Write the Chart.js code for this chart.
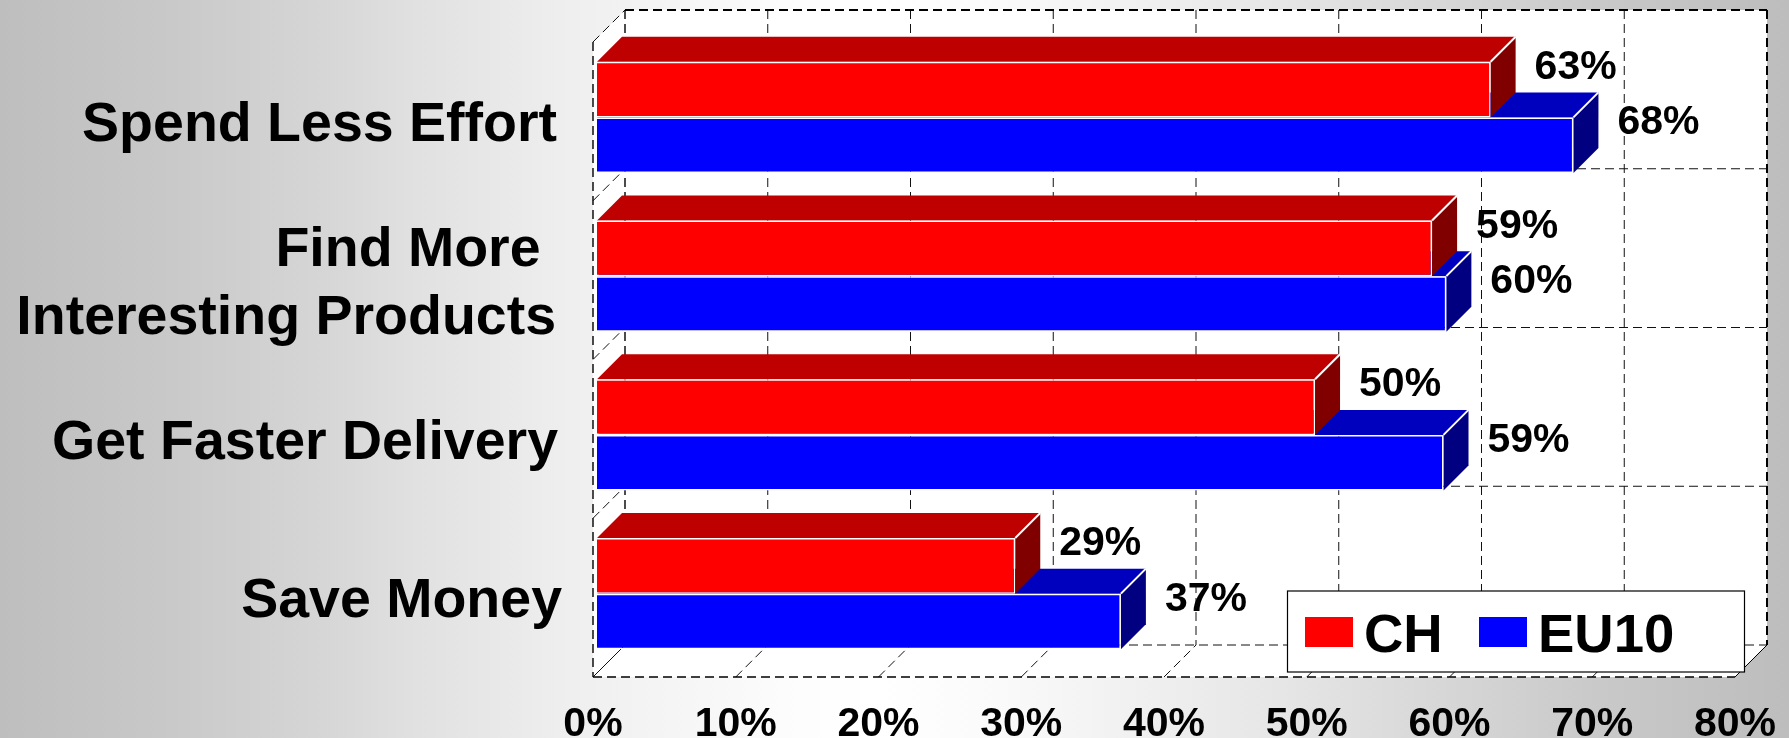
<!DOCTYPE html>
<html><head><meta charset="utf-8">
<style>html,body{margin:0;padding:0;background:#fff}canvas{display:block}</style>
<script src="https://cdn.jsdelivr.net/npm/chart.js@4"></script>
</head><body><canvas id="c" width="1789" height="738"></canvas>
<script>
const categories = ["Spend Less Effort", ["Find More ", "Interesting Products"], "Get Faster Delivery", "Save Money"];
const chValues = [62.6, 58.5, 50.3, 29.3];
const eu10Values = [68.4, 59.5, 59.3, 36.7];
const chLabels = ["63%", "59%", "50%", "29%"];
const eu10Labels = ["68%", "60%", "59%", "37%"];
const seriesNames = ["CH", "EU10"];
const FONT = '"Liberation Sans", Arial, sans-serif';
const WALL = 32, GAP = 4, BAR_D = 25;
const shade = [{top:'#bf0000',side:'#800000'},{top:'#0000bf',side:'#000080'}];
const seriesLabels = [chLabels, eu10Labels];
const labelNudge = [0, -1, 1, 5];
const bgStops = [[0,'#bebebe'],[160,'#c8c8c8'],[326,'#d6d6d6'],[408,'#e0e0e0'],[571,'#efefef'],[640,'#f3f3f3'],[800,'#fdfdfd'],[880,'#ffffff'],[1000,'#fafafa'],[1141,'#f0f0f0'],[1280,'#e6e6e6'],[1430,'#d8d8d8'],[1600,'#c9c9c9'],[1789,'#bdbdbd']];

function line(ctx,x0,y0,x1,y1){ctx.beginPath();ctx.moveTo(x0,y0);ctx.lineTo(x1,y1);ctx.stroke();}
function noPad(s){s.paddingTop=0;s.paddingBottom=0;s.paddingLeft=0;s.paddingRight=0;}

const stage = {
  id:'stage',
  beforeDraw(chart){
    const {ctx,width,height,chartArea:a,scales:{x,y}} = chart;
    y.getLabelItems().forEach((it,i)=>{
      if(!it.nudged){it.nudged=true;it.options.translation[0]+=labelNudge[i]||0;}
    });
    const g = ctx.createLinearGradient(0,0,width,0);
    bgStops.forEach(s=>g.addColorStop(s[0]/width,s[1]));
    ctx.save();
    ctx.fillStyle=g; ctx.fillRect(0,0,width,height);
    ctx.fillStyle='#fff';
    ctx.beginPath();
    ctx.moveTo(a.left,a.bottom);ctx.lineTo(a.left,a.top);ctx.lineTo(a.left+WALL,a.top-WALL);
    ctx.lineTo(a.right+WALL,a.top-WALL);ctx.lineTo(a.right+WALL,a.bottom-WALL);ctx.lineTo(a.right,a.bottom);
    ctx.closePath();ctx.fill();
    ctx.strokeStyle='#111';ctx.lineWidth=1;ctx.setLineDash([9,5]);
    x.ticks.forEach((t,i)=>{
      const px=x.getPixelForValue(t.value);
      const first=i===0;
      if(i>0 && i<x.ticks.length-1) line(ctx,px+WALL,a.top-WALL,px+WALL,a.bottom-WALL);
      ctx.setLineDash(first?[]:[9,5]);
      line(ctx,px,a.bottom,px+WALL,a.bottom-WALL);
      ctx.setLineDash([9,5]);
    });
    const n=categories.length, h=(a.bottom-a.top)/n;
    for(let i=0;i<=n;i++){
      const py=a.top+h*i;
      line(ctx,a.left+WALL,py-WALL,a.right+WALL,py-WALL);
      line(ctx,a.left,py,a.left+WALL,py-WALL);
    }
    ctx.strokeStyle='#000';
    ctx.lineWidth=1.4;
    line(ctx,a.left,a.bottom,a.right,a.bottom);
    line(ctx,a.left,a.top,a.left,a.bottom);
    line(ctx,a.left+WALL,a.top-WALL,a.left+WALL,a.bottom-WALL);
    ctx.lineWidth=2;
    line(ctx,a.left+WALL,a.top-WALL,a.right+WALL,a.top-WALL);
    line(ctx,a.right+WALL,a.top-WALL,a.right+WALL,a.bottom-WALL);
    ctx.setLineDash([]);ctx.lineWidth=1;
    line(ctx,a.right,a.bottom,a.right+WALL,a.bottom-WALL);
    ctx.restore();
  },
  beforeDatasetsDraw(chart){
    const ctx=chart.ctx;
    ctx.save();
    ctx.translate(GAP,-GAP);
    ctx.strokeStyle='#fff';ctx.lineWidth=2;ctx.lineJoin='round';
    [1,0].forEach(d=>{
      chart.getDatasetMeta(d).data.forEach(b=>{
        const x0=chart.scales.x.getPixelForValue(0), x1=b.x, t=b.y-b.height/2, bt=b.y+b.height/2;
        ctx.fillStyle=shade[d].top;
        ctx.beginPath();ctx.moveTo(x0,t);ctx.lineTo(x0+BAR_D,t-BAR_D);ctx.lineTo(x1+BAR_D,t-BAR_D);ctx.lineTo(x1,t);ctx.closePath();ctx.fill();
        ctx.fillStyle=shade[d].side;
        ctx.beginPath();ctx.moveTo(x1,t);ctx.lineTo(x1+BAR_D,t-BAR_D);ctx.lineTo(x1+BAR_D,bt-BAR_D);ctx.lineTo(x1,bt);ctx.closePath();ctx.fill();
        ctx.beginPath();ctx.moveTo(x1,t);ctx.lineTo(x1+BAR_D,t-BAR_D);ctx.stroke();
      });
    });
    ctx.restore();
  },
  beforeDatasetDraw(chart){chart.ctx.save();chart.ctx.translate(GAP,-GAP);},
  afterDatasetDraw(chart){chart.ctx.restore();},
  afterDatasetsDraw(chart){
    const ctx=chart.ctx;
    ctx.save();
    ctx.fillStyle='#000';ctx.font='bold 41px '+FONT;ctx.textAlign='left';ctx.textBaseline='middle';
    [0,1].forEach(d=>chart.getDatasetMeta(d).data.forEach((b,i)=>{
      ctx.fillText(seriesLabels[d][i],b.x+GAP+44,b.y-GAP-22);
    }));
    ctx.fillStyle='#fff';ctx.strokeStyle='#000';ctx.lineWidth=1.2;
    ctx.fillRect(1287.5,591,457,81);ctx.strokeRect(1287.5,591,457,81);
    ctx.font='bold 54.5px '+FONT;ctx.textBaseline='alphabetic';
    const items=[[1305,1364],[1479,1538]];
    chart.data.datasets.forEach((ds,i)=>{
      ctx.fillStyle=ds.backgroundColor;ctx.fillRect(items[i][0],617,48,30);
      ctx.fillStyle='#000';ctx.fillText(ds.label,items[i][1],652);
    });
    ctx.restore();
  }
};

new Chart(document.getElementById('c'),{
  type:'bar',
  data:{labels:categories,datasets:[
    {label:seriesNames[0],data:chValues,backgroundColor:'#ff0000',borderColor:'#ffffff',borderWidth:1.5,categoryPercentage:0.70,barPercentage:1},
    {label:seriesNames[1],data:eu10Values,backgroundColor:'#0000ff',borderColor:'#ffffff',borderWidth:1.5,categoryPercentage:0.70,barPercentage:1}
  ]},
  options:{
    indexAxis:'y',responsive:false,animation:false,devicePixelRatio:1,
    clip:false,
    layout:{padding:{left:0,right:54,top:42,bottom:0}},
    plugins:{legend:{display:false},tooltip:{enabled:false},title:{display:false}},
    scales:{
      x:{min:0,max:80,border:{display:false},grid:{display:false},
        afterFit(s){s.height=61;noPad(s);},
        ticks:{stepSize:10,autoSkip:false,maxRotation:0,padding:15,color:'#000',font:{family:FONT,size:41,weight:'bold'},callback:v=>v+'%'}},
      y:{border:{display:false},grid:{display:false},
        afterFit(s){s.width=593;noPad(s);},
        ticks:{padding:28,labelOffset:4.5,autoSkip:false,color:'#000',font:{family:FONT,size:55.5,weight:'bold',lineHeight:1.225}}}
    }
  },
  plugins:[stage]
});
</script></body></html>
